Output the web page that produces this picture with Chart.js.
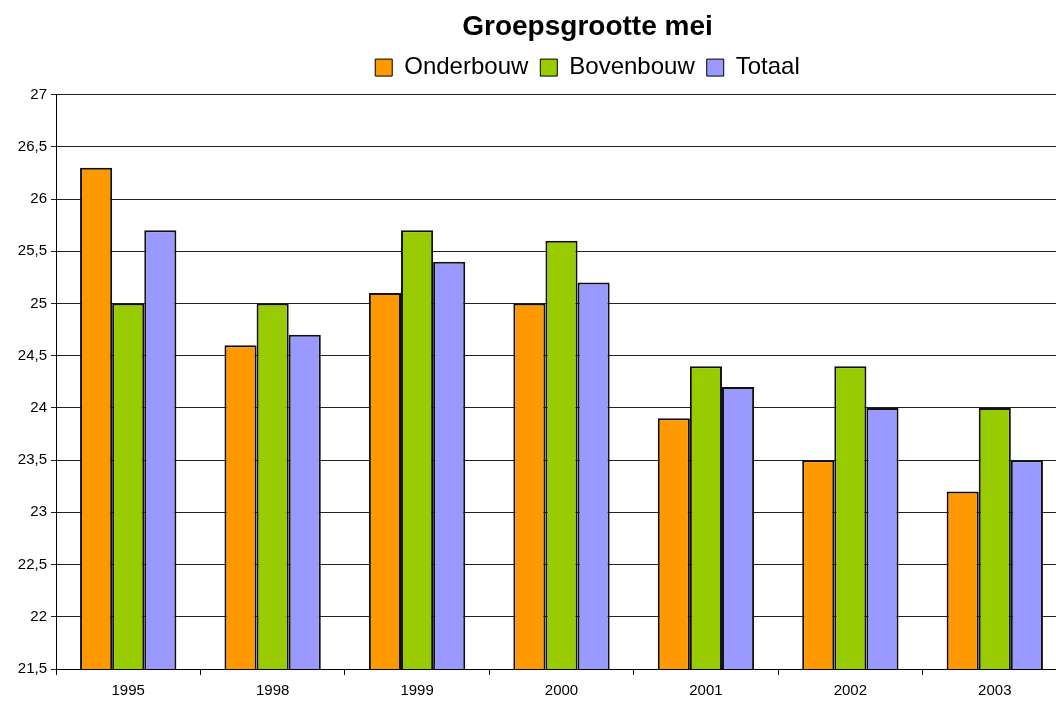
<!DOCTYPE html>
<html>
<head>
<meta charset="utf-8">
<script src="https://cdn.jsdelivr.net/npm/chart.js@4/dist/chart.umd.min.js"></script>
<style>
    body { margin:0; overflow:hidden; background:#fff; }
    #wrap { width:1056px; height:702px; overflow:hidden; }
</style>
</head>
<body>
<div id="wrap">
    <canvas id="chart" width="1175" height="702"></canvas>
</div>
<script>
// ======================================================
// Data
// ======================================================

const years = ["1995", "1998", "1999", "2000", "2001", "2002", "2003"];

const onderbouw = [26.3, 24.6, 25.1, 25.0, 23.9, 23.5, 23.2];

const bovenbouw = [25.0, 25.0, 25.7, 25.6, 24.4, 24.4, 24.0];

const totaal = [25.7, 24.7, 25.4, 25.2, 24.2, 24.0, 23.5];

const yMin = 21.5;
const yMax = 27;
const yStep = 0.5;

// ======================================================
// Chart
// ======================================================

const font = "Arial, 'Liberation Sans', sans-serif";

function barSet(label, data, color) {
    return {
        label: label,
        data: data,
        backgroundColor: color,
        borderColor: "#111",
        borderWidth: 2,
        borderSkipped: false,
        categoryPercentage: 0.667,
        barPercentage: 1.0,
        xAxisID: "x",
        yAxisID: "y"
    };
}

// empty strip used only to reserve room around the plot
function spacer(position, size) {
    const horiz = position === "top" || position === "bottom";
    return {
        type: "linear",
        position: position,
        axis: horiz ? "x" : "y",
        display: true,
        grid: { display: false },
        border: { display: false },
        ticks: { display: false },
        afterFit: (s) => {
            if (horiz) s.height = size; else s.width = size;
        }
    };
}

new Chart(document.getElementById("chart"), {
    type: "bar",
    data: {
        labels: years,
        datasets: [
            barSet("Onderbouw", onderbouw, "#FF9900"),
            barSet("Bovenbouw", bovenbouw, "#99CC00"),
            barSet("Totaal", totaal, "#9999FF")
        ]
    },
    options: {
        responsive: false,
        animation: false,
        layout: {
            padding: 0
        },
        plugins: {
            title: {
                display: true,
                text: "Groepsgrootte mei",
                color: "#000",
                font: { family: font, size: 28, weight: "bold" },
                padding: { top: 10, bottom: 0 }
            },
            legend: {
                labels: {
                    color: "#000",
                    font: { family: font, size: 24 },
                    boxWidth: 17,
                    boxHeight: 17,
                    padding: 12,
                    generateLabels: (chart) =>
                        Chart.defaults.plugins.legend.labels.generateLabels(chart)
                            .map(l => Object.assign(l, { strokeStyle: "#000", lineWidth: 1 }))
                }
            },
            tooltip: { enabled: false }
        },
        scales: {
            x: {
                offset: true,
                grid: {
                    offset: true,
                    drawOnChartArea: false,
                    color: "#000",
                    tickLength: 6
                },
                border: { color: "#000" },
                ticks: {
                    color: "#000",
                    font: { family: font, size: 15 },
                    padding: 7,
                    maxRotation: 0
                },
                afterFit: (s) => { s.height = 33; }
            },
            y: {
                min: yMin,
                max: yMax,
                grid: { color: "#222", tickLength: 5 },
                border: { color: "#000" },
                ticks: {
                    stepSize: yStep,
                    color: "#000",
                    font: { family: font, size: 15 },
                    padding: 4,
                    callback: (v) => String(Math.round(v * 10) / 10).replace(".", ",")
                },
                afterFit: (s) => { s.width = 56; }
            },
            // the plot runs past the right edge of the window
            padRight: spacer("right", 108),
            padTop: spacer("top", 5)
        }
    }
});
</script>
</body>
</html>
